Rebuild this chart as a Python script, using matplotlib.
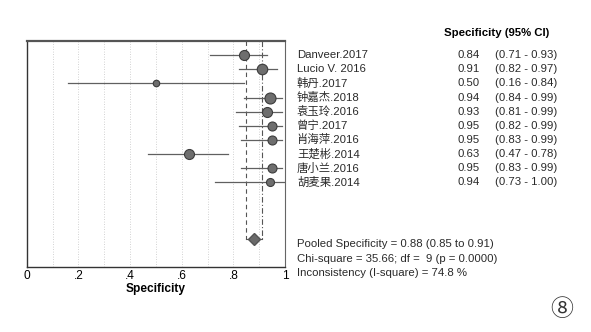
import matplotlib
matplotlib.use("Agg")
import matplotlib.pyplot as plt
import numpy as np

plt.rcParams['font.family'] = ['Liberation Sans', 'Noto Sans CJK SC', 'DejaVu Sans']

# --- data ---
studies = ["Danveer.2017", "Lucio V. 2016", "韩丹.2017", "钟嘉杰.2018", "袁玉玲.2016",
           "曾宁.2017", "肖海萍.2016", "王楚彬.2014", "唐小兰.2016", "胡麦果.2014"]
spec = [0.84, 0.91, 0.50, 0.94, 0.93, 0.95, 0.95, 0.63, 0.95, 0.94]
ci_low = [0.71, 0.82, 0.16, 0.84, 0.81, 0.82, 0.83, 0.47, 0.83, 0.73]
ci_high = [0.93, 0.97, 0.84, 0.99, 0.99, 0.99, 0.99, 0.78, 0.99, 1.00]
weights = [10, 10.5, 6.5, 11, 10, 9, 9, 10, 9, 8]   # relative study weight (marker size)

pooled = 0.88
pooled_ci = (0.85, 0.91)
chi2, df, pval = 35.66, 9, 0.0000
i2 = 74.8

tick_vals = [0, 0.2, 0.4, 0.6, 0.8, 1.0]
tick_labels = ["0", ".2", ".4", ".6", ".8", "1"]

fs = 8.2
line_c = "#555555"
txt_c = "#2a2a2a"

fig = plt.figure(figsize=(5.91, 3.32), dpi=100)
ax = fig.add_axes([0.0452, 0.1958, 0.4371, 0.6807])
ax.set_xlim(0, 1)
ax.set_ylim(15, -1)

# light dotted grid every 0.1
for g in np.arange(0.1, 1.0, 0.1):
    ax.axvline(g, color="#c4c4c4", lw=0.6, ls=(0, (1, 2)), zorder=0)

rows = np.arange(len(studies))
pool_row = 13

# pooled CI guide lines
ax.plot([pooled_ci[0]] * 2, [-1, pool_row], color=line_c, lw=0.8, ls=(0, (4, 3)), zorder=1)
ax.plot([pooled_ci[1]] * 2, [-1, pool_row], color=line_c, lw=0.8, ls=(0, (5, 2, 1, 2)), zorder=1)
ax.plot(pooled_ci, [pool_row, pool_row], color=line_c, lw=0.8, zorder=1)
ax.plot(pooled, pool_row, marker="D", ms=6.5, color="#6a6a6a", mec="#555555", zorder=3)

# study estimates with CI
for r, s, lo, hi, w in zip(rows, spec, ci_low, ci_high, weights):
    ax.plot([lo, hi], [r, r], color="#606060", lw=0.9, zorder=2)
    ax.plot(s, r, marker="o", ms=w * 0.72, color="#6e6e6e", mec="#3c3c3c", mew=0.8, zorder=3)

ax.set_xticks(tick_vals)
ax.set_xticklabels(tick_labels, fontsize=8.6)
ax.tick_params(axis="x", length=0, pad=2)
ax.set_yticks([])
ax.set_xlabel("Specificity", fontsize=8.6, fontweight="bold", labelpad=1)

for side in ["left", "bottom"]:
    ax.spines[side].set_color("#333333")
    ax.spines[side].set_linewidth(1.0)
ax.spines["top"].set_color("#555555")
ax.spines["top"].set_linewidth(1.6)
ax.spines["right"].set_color("#666666")
ax.spines["right"].set_linewidth(0.8)

# right-hand table
ax.text(1.616, -1.55, "Specificity (95% CI)", fontsize=fs, fontweight="bold",
        ha="left", va="center", clip_on=False)
for r, name, s, lo, hi in zip(rows, studies, spec, ci_low, ci_high):
    ax.text(1.046, r, name, fontsize=fs, ha="left", va="center", color=txt_c, clip_on=False)
    ax.text(1.755, r, f"{s:.2f}", fontsize=fs, ha="right", va="center", color=txt_c, clip_on=False)
    ax.text(1.813, r, f"({lo:.2f} - {hi:.2f})", fontsize=fs, ha="left", va="center",
            color=txt_c, clip_on=False)

stats = [
    f"Pooled Specificity = {pooled:.2f} ({pooled_ci[0]:.2f} to {pooled_ci[1]:.2f})",
    f"Chi-square = {chi2:.2f}; df =  {df} (p = {pval:.4f})",
    f"Inconsistency (I-square) = {i2:.1f} %",
]
for k, line in enumerate(stats):
    ax.text(1.046, 13.4 + k * 1.03, line, fontsize=fs, ha="left", va="center",
            color=txt_c, clip_on=False)

fig.text(562 / 591, 1 - 309 / 332, "⑧", fontsize=16.5, ha="center", va="center",
         color="#333333", family=["Noto Sans CJK SC", "DejaVu Sans"])

fig.savefig("out.png", dpi=100)
